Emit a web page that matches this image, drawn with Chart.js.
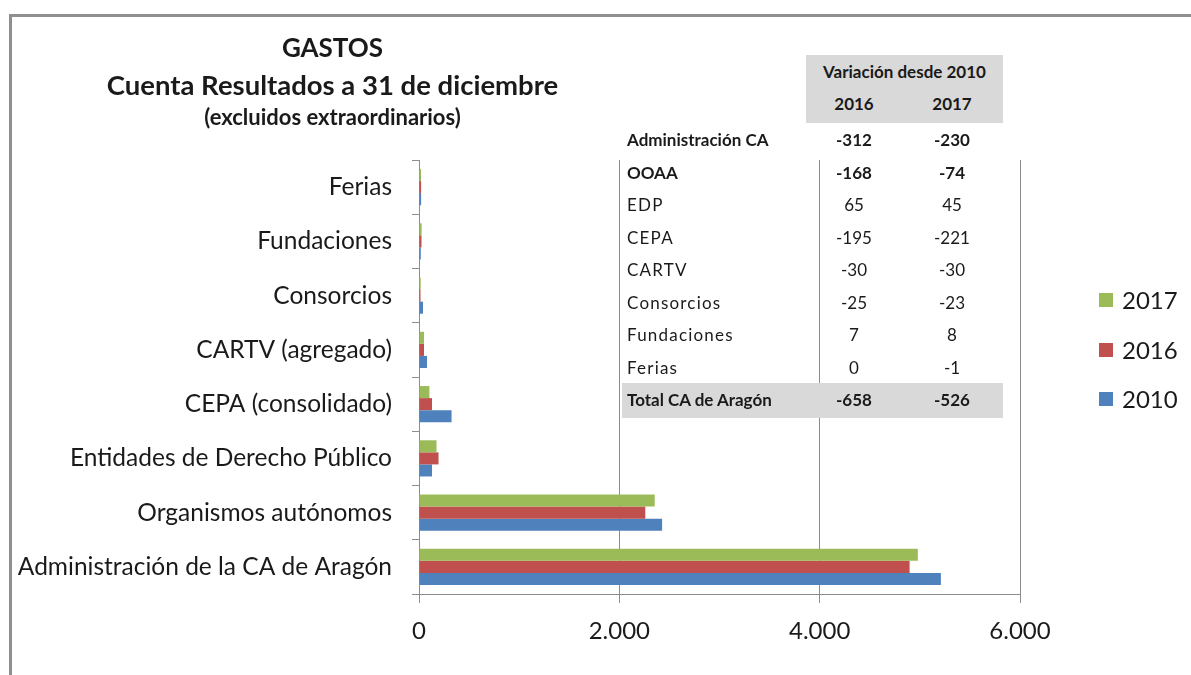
<!DOCTYPE html>
<html lang="es">
<head>
<meta charset="utf-8">
<title>Gastos</title>
<script src="https://cdn.jsdelivr.net/npm/chart.js@4"></script>
<style>
    html, body { margin: 0; padding: 0; background: #fff; }
    body { width: 1191px; height: 675px; position: relative; overflow: hidden; font-family: "Lato", "Open Sans", sans-serif; color: #1a1a1a; }
    .marco { position: absolute; left: 9px; top: 14px; width: 1200px; height: 700px; border-left: 3px solid #8f8f8f; border-top: 3px solid #8f8f8f; }
    #grafico { position: absolute; left: 0; top: 0; }
    .titulo { position: absolute; left: 80px; width: 505px; text-align: center; font-weight: bold; white-space: nowrap; }
    .caja { position: absolute; background: #d9d9d9; }
    .celda { position: absolute; white-space: nowrap; line-height: 20px; height: 20px; }
    .leyenda { position: absolute; left: 1099px; font-size: 24px; line-height: 30px; }
    .leyenda span.cuadro { position: absolute; left: 0; top: 8px; width: 14px; height: 14px; }
    .leyenda span.texto { position: absolute; left: 23px; top: 0; white-space: nowrap; }
</style>
</head>
<body>
<div class="marco"></div>
<canvas id="grafico" width="1191" height="675"></canvas>

<div class="titulo" style="top: 31px; font-size: 26px;">GASTOS</div>
<div class="titulo" style="top: 68px; font-size: 27.5px;">Cuenta Resultados a 31 de diciembre</div>
<div class="titulo" style="top: 103px; font-size: 22px;">(excluidos extraordinarios)</div>

<div id="tabla"></div>
<div id="leyenda"></div>

<script>
"use strict";

// datos del grafico (millones de euros)
const categorias = [
    "Ferias",
    "Fundaciones",
    "Consorcios",
    "CARTV (agregado)",
    "CEPA (consolidado)",
    "Entidades de Derecho Público",
    "Organismos autónomos",
    "Administración de la CA de Aragón",
];
const gastos2017 = [20, 26, 17, 50, 104, 175, 2353, 4980];
const gastos2016 = [21, 25, 15, 50, 130, 195, 2259, 4898];
const gastos2010 = [21, 18, 40, 80, 325, 130, 2427, 5210];
const anios = ["2017", "2016", "2010"];
const colores = ["#9bbb59", "#c0504d", "#4f81bd"];
const ticksEjeX = [0, 2000, 4000, 6000];

// tabla de variaciones
const filasTabla = ["Administración CA", "OOAA", "EDP", "CEPA", "CARTV", "Consorcios", "Fundaciones", "Ferias", "Total CA de Aragón"];
const variacion2016 = [-312, -168, 65, -195, -30, -25, 7, 0, -658];
const variacion2017 = [-230, -74, 45, -221, -30, -23, 8, -1, -526];
const filasNegrita = ["Administración CA", "OOAA", "Total CA de Aragón"];

const formatoMiles = (v) => String(v).replace(/\B(?=(\d{3})+(?!\d))/g, ".");

function crearTabla() {
    const tabla = document.getElementById("tabla");
    let html = "";
    html += `<div class="caja" style="left:806px; top:55px; width:197px; height:68px;"></div>`;
    html += `<div class="caja" style="left:622px; top:383px; width:381px; height:35px;"></div>`;
    html += `<div class="celda" style="left:806px; width:197px; top:62px; text-align:center; font-weight:bold; font-size:17px;">Variación desde 2010</div>`;
    html += `<div class="celda" style="left:814px; width:80px; top:94px; text-align:center; font-weight:bold; font-size:17px;">2016</div>`;
    html += `<div class="celda" style="left:912px; width:80px; top:94px; text-align:center; font-weight:bold; font-size:17px;">2017</div>`;

    filasTabla.forEach((nombre, i) => {
        const top = 130 + i * 32.5;
        const negrita = filasNegrita.includes(nombre);
        const estilo = negrita ? "font-weight:bold;" : "letter-spacing:1.2px;";
        html += `<div class="celda" style="left:627px; top:${top}px; font-size:17px; ${estilo}">${nombre}</div>`;
        const estiloNum = negrita ? "font-weight:bold;" : "";
        html += `<div class="celda" style="left:814px; width:80px; top:${top}px; text-align:center; font-size:17px; ${estiloNum}">${variacion2016[i]}</div>`;
        html += `<div class="celda" style="left:912px; width:80px; top:${top}px; text-align:center; font-size:17px; ${estiloNum}">${variacion2017[i]}</div>`;
    });
    tabla.innerHTML = html;
}

function crearLeyenda() {
    const leyenda = document.getElementById("leyenda");
    anios.forEach((anio, i) => {
        const item = document.createElement("div");
        item.className = "leyenda";
        item.style.top = `${285 + i * 49.5}px`;
        item.innerHTML = `<span class="cuadro" style="background:${colores[i]}"></span><span class="texto">${anio}</span>`;
        leyenda.appendChild(item);
    });
}

const colorEje = "#8c8c8c";

new Chart(document.getElementById("grafico"), {
    type: "bar",
    data: {
        labels: categorias,
        datasets: [
            { label: anios[0], data: gastos2017, backgroundColor: colores[0] },
            { label: anios[1], data: gastos2016, backgroundColor: colores[1] },
            { label: anios[2], data: gastos2010, backgroundColor: colores[2] },
        ],
    },
    options: {
        indexAxis: "y",
        responsive: false,
        animation: false,
        layout: {
            padding: { top: 160, right: 171, bottom: 0, left: 0 },
        },
        datasets: {
            bar: {
                barPercentage: 1,
                categoryPercentage: 0.667,
                borderWidth: 0,
            },
        },
        plugins: {
            legend: { display: false },
            tooltip: { enabled: false },
            title: { display: false },
        },
        scales: {
            x: {
                min: 0,
                max: 6000,
                afterFit: (s) => { s.height = 81; },
                afterBuildTicks: (s) => { s.ticks = ticksEjeX.map((v) => ({ value: v })); },
                grid: {
                    color: colorEje,
                    tickColor: colorEje,
                    tickLength: 9,
                    lineWidth: 1,
                },
                border: { display: true, color: colorEje, width: 1 },
                ticks: {
                    padding: 14,
                    color: "#1a1a1a",
                    font: { family: "Lato", size: 24 },
                    callback: (v) => formatoMiles(v),
                },
            },
            y: {
                afterFit: (s) => { s.width = 419; },
                grid: {
                    display: true,
                    drawOnChartArea: false,
                    offset: true,
                    color: colorEje,
                    tickColor: colorEje,
                    tickLength: 7,
                },
                border: { display: true, color: colorEje, width: 1 },
                ticks: {
                    padding: 20,
                    color: "#1a1a1a",
                    font: { family: "Lato", size: 24.5 },
                },
            },
        },
    },
});

crearTabla();
crearLeyenda();
</script>
</body>
</html>
